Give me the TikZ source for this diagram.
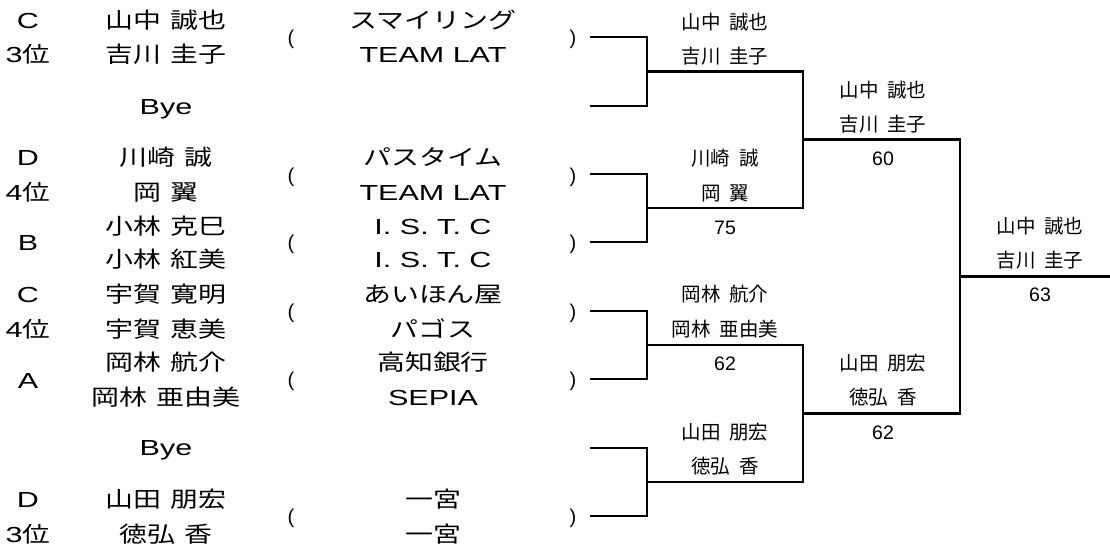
\documentclass[tikz,border=0pt]{standalone}
\usepackage{fontspec}
\newfontfamily\jpw{Noto Sans CJK JP}[FakeStretch=1.27]
\newfontfamily\latw{Liberation Sans}[FakeStretch=1.4]
\newfontfamily\jpn{Noto Sans CJK JP}
\newfontfamily\latn{Liberation Sans}
\newcommand\jsp{\hspace{0.45em}}
\tikzset{
  base/.style={inner sep=0pt, anchor=base, yshift=-7.8pt},
  jl/.style={base, font=\fontsize{22}{22}\selectfont\jpw},
  ll/.style={base, font=\fontsize{21.8}{22}\selectfont\latw},
  pr/.style={base, font=\fontsize{20}{20}\selectfont\latn},
  wl/.style={base, font=\fontsize{19.5}{19.5}\selectfont\jpn},
  sc/.style={base, font=\fontsize{19.5}{19.5}\selectfont\latn},
  br/.style={line width=2.2pt, line join=miter, line cap=rect}
}
\begin{document}
\begin{tikzpicture}[x=1pt,y=-1pt]
\useasboundingbox (0,0) rectangle (1110,546);
% ---- left: seeds / ranks
\node[ll] (a1) at (28,21) {C};
\node[ll] (b1) at (28,55) {3{\jpw 位}};
\node[ll] (a2) at (28,158) {D};
\node[ll] (b2) at (28,193) {4{\jpw 位}};
\node[ll] (a3) at (28,243) {B};
\node[ll] (a4) at (28,295) {C};
\node[ll] (b4) at (28,330) {4{\jpw 位}};
\node[ll] (a5) at (28,381) {A};
\node[ll] (a6) at (28,500) {D};
\node[ll] (b6) at (28,535) {3{\jpw 位}};
% ---- names
\node[jl] (p1a) at (166,21) {山中\jsp 誠也};
\node[jl] (p1b) at (166,55) {吉川\jsp 圭子};
\node[ll] (bye1) at (166,107) {Bye};
\node[jl] (p2a) at (166,158) {川崎\jsp 誠};
\node[jl] (p2b) at (166,193) {岡\jsp 翼};
\node[jl] (p3a) at (166,227) {小林\jsp 克巳};
\node[jl] (p3b) at (166,260) {小林\jsp 紅美};
\node[jl] (p4a) at (166,295) {宇賀\jsp 寛明};
\node[jl] (p4b) at (166,330) {宇賀\jsp 恵美};
\node[jl] (p5a) at (166,363) {岡林\jsp 航介};
\node[jl] (p5b) at (166,398) {岡林\jsp 亜由美};
\node[ll] (bye2) at (166,448) {Bye};
\node[jl] (p6a) at (166,500) {山田\jsp 朋宏};
\node[jl] (p6b) at (166,535) {徳弘\jsp 香};
% ---- teams
\node[jl] (t1a) at (433,21) {スマイリング};
\node[ll] (t1b) at (433,55) {TEAM LAT};
\node[jl] (t2a) at (433,158) {パスタイム};
\node[ll] (t2b) at (433,193) {TEAM LAT};
\node[ll] (t3a) at (433,227) {I. S. T. C};
\node[ll] (t3b) at (433,260) {I. S. T. C};
\node[jl] (t4a) at (433,295) {あいほん屋};
\node[jl] (t4b) at (433,330) {パゴス};
\node[jl] (t5a) at (433,363) {高知銀行};
\node[ll] (t5b) at (433,398) {SEPIA};
\node[jl] (t6a) at (433,500) {一宮};
\node[jl] (t6b) at (433,535) {一宮};
% ---- parentheses
\foreach \i/\y in {1/37,2/175,3/242,4/311,5/379,6/516}{
  \node[pr] (lp\i) at (291,\y) {(};
  \node[pr] (rp\i) at (573,\y) {)};
}
% ---- bracket coordinates
\coordinate (e1) at (591,37);
\coordinate (e2) at (591,106);
\coordinate (e3) at (591,174);
\coordinate (e4) at (591,242);
\coordinate (e5) at (591,311);
\coordinate (e6) at (591,379);
\coordinate (e7) at (591,448);
\coordinate (e8) at (591,516);
\coordinate (m1) at (647,71.5);
\coordinate (m2) at (647,208);
\coordinate (m3) at (647,345);
\coordinate (m4) at (647,482);
\coordinate (n1) at (803,139.5);
\coordinate (n2) at (803,413.5);
\coordinate (f)  at (960,276.5);
\coordinate (fe) at (1110,276.5);
% ---- bracket lines
\draw[br] (e1) -| (m1) |- (e2);
\draw[br] (e3) -| (m2) |- (e4);
\draw[br] (e5) -| (m3) |- (e6);
\draw[br] (e7) -| (m4) |- (e8);
\draw[br] (m1) -| (n1) |- (m2);
\draw[br] (m3) -| (n2) |- (m4);
\draw[br] (n1) -| (f) |- (n2);
\draw[br] (f) -- (fe);
% ---- winner labels
\node[wl] (w1a) at (725,21.5) {山中\jsp 誠也};
\node[wl] (w1b) at (725,55.5) {吉川\jsp 圭子};
\node[wl] (w2a) at (725,158) {川崎\jsp 誠};
\node[wl] (w2b) at (725,193) {岡\jsp 翼};
\node[sc] (s2) at (725,227) {75};
\node[wl] (w3a) at (725,294) {岡林\jsp 航介};
\node[wl] (w3b) at (725,329) {岡林\jsp 亜由美};
\node[sc] (s3) at (725,363) {62};
\node[wl] (w4a) at (725,432) {山田\jsp 朋宏};
\node[wl] (w4b) at (725,466) {徳弘\jsp 香};
\node[wl] (x1a) at (883,90) {山中\jsp 誠也};
\node[wl] (x1b) at (883,124) {吉川\jsp 圭子};
\node[sc] (y1) at (883,158) {60};
\node[wl] (x2a) at (883,363) {山田\jsp 朋宏};
\node[wl] (x2b) at (883,397) {徳弘\jsp 香};
\node[sc] (y2) at (883,432) {62};
\node[wl] (za) at (1040,226) {山中\jsp 誠也};
\node[wl] (zb) at (1040,260) {吉川\jsp 圭子};
\node[sc] (zs) at (1040,294) {63};
\end{tikzpicture}
\end{document}
